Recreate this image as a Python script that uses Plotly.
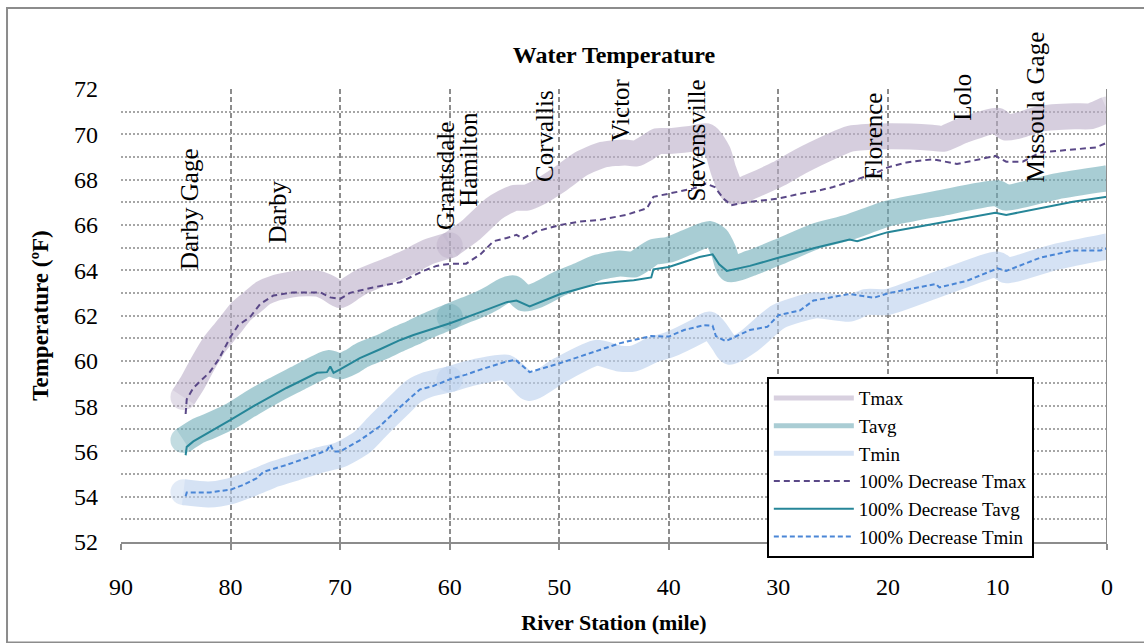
import plotly.graph_objects as go

# ---------------- data ----------------
station_tmax = [84.3, 83.5, 82.5, 81.5, 80.5, 80, 79, 78, 77, 76, 74, 72, 71, 70, 69, 68, 66, 64, 62, 60,
                58, 56, 55, 54, 53, 52, 50, 48, 46, 44, 43, 42, 41, 40, 38, 36.5, 35.5, 35, 34.2, 33.5,
                32.5, 30, 28, 25, 23.5, 21, 18, 16, 15, 13, 10, 9.2, 8, 6, 3, 1.5, 0]
tmax = [58.4, 59.0, 59.9, 60.7, 61.3, 61.6, 62.2, 62.6, 63.0, 63.2, 63.4, 63.4, 63.2, 62.9, 63.2, 63.5, 63.9, 64.3, 64.8, 65.1,
        65.8, 66.7, 67.0, 67.2, 67.2, 67.4, 68.0, 68.7, 69.1, 69.2, 69.15, 69.4, 69.7, 69.7, 69.8, 69.9, 69.2, 68.4, 67.5, 67.5,
        67.7, 68.25, 68.8, 69.5, 69.8, 69.9, 69.9, 69.85, 69.8, 70.2, 70.6, 70.3, 70.4, 70.7, 70.8, 70.8, 71.1]

station_tavg = [84.3, 83, 82, 80, 78, 76, 74, 72, 71, 70, 69, 68, 66, 64.5, 63.3, 62, 60, 58.5, 57.2, 56,
                55, 54.2, 53.2, 52, 50, 48, 46.6, 44.5, 43.2, 41.4, 40, 38, 36.3, 35.6, 35, 34.4, 32.6,
                30, 26.6, 23.5, 20, 15.3, 10, 9.2, 4.6, 0]
tavg = [56.5, 56.9, 57.1, 57.55, 58.15, 58.7, 59.2, 59.7, 59.9, 59.75, 59.95, 60.25, 60.65, 61.0, 61.25, 61.55, 61.95, 62.25, 62.5, 62.8,
        63.1, 63.2, 62.75, 62.9, 63.4, 63.8, 64.1, 64.3, 64.25, 64.8, 64.9, 65.3, 65.6, 65.4, 64.85, 64.05, 64.3,
        64.8, 65.5, 65.9, 66.5, 66.95, 67.4, 67.2, 67.7, 68.05]

station_tmin = [84.3, 82, 80, 78, 76, 74, 72, 70, 68, 66.4, 64.5, 63.3, 62, 60, 58.5, 57.2, 54.8, 53.6, 52.7, 49.9,
                46.6, 44.5, 43.2, 41.4, 40, 37.2, 36.3, 35, 34.4, 32.6, 30, 26.6, 23.5, 22, 20, 15.3, 10, 9.2, 4.6, 0]
tmin = [54.2, 54.1, 54.25, 54.6, 55.0, 55.3, 55.6, 55.85, 56.4, 57.2, 58.1, 58.65, 58.95, 59.18, 59.4, 59.55, 59.7, 59.2, 58.8, 59.6,
        60.35, 60.1, 60.1, 60.5, 60.7, 61.35, 61.6, 60.8, 60.4, 60.9, 61.95, 62.45, 62.3, 62.6, 62.6, 63.4, 64.25, 64.0, 64.6, 65.05]

station_dec_tmax = [84.1, 84.0, 83.4, 81.9, 81.1, 80.0, 79.3, 78.2, 77.3, 76.1, 74.3, 71.8, 70.9, 70.0, 69.1, 67.0, 64.5,
                    62.4, 61.2, 59.9, 58.5, 57.2, 56.0, 54.8, 53.9, 53.3, 52.1, 49.9, 48.1, 46.3, 43.9, 42.0, 41.4, 40.0,
                    37.8, 36.6, 35.8, 35.0, 34.3, 32.6, 30.0, 28.0, 26.2, 25.0, 23.5, 21.3, 20.0, 18.3, 15.9, 13.7,
                    11.6, 10.2, 9.2, 7.7, 6.1, 3.1, 1.0, 0.0]
dec_tmax = [57.65, 58.3, 58.8, 59.5, 60.05, 61.06, 61.57, 61.94, 62.5, 62.88, 63.02, 63.02, 62.8, 62.73, 63.0, 63.24, 63.47,
            63.97, 64.19, 64.29, 64.29, 64.7, 65.28, 65.42, 65.56, 65.4, 65.71, 66.0, 66.15, 66.22, 66.44, 66.73, 67.24, 67.38,
            67.6, 67.82, 67.67, 67.16, 66.87, 67.02, 67.16, 67.38, 67.53, 67.67, 67.9, 68.25, 68.54, 68.76, 68.9, 68.69,
            68.9, 69.05, 68.79, 68.79, 69.2, 69.34, 69.42, 69.63]

station_dec_tavg = [84.1, 84.0, 83.4, 81.9, 80.0, 77.9, 74.9, 72.1, 71.2, 70.9, 70.6, 70.0, 68.2, 66.4, 64.5, 63.3, 59.9,
                    57.2, 54.8, 53.9, 52.7, 49.9, 46.6, 44.5, 43.2, 41.6, 41.4, 40.0, 37.2, 36.0, 35.4, 34.7, 32.6,
                    30.0, 26.6, 23.5, 22.8, 20.0, 15.9, 12.5, 10.2, 9.2, 6.1, 3.1, 0.0]
dec_tavg = [55.83, 56.2, 56.44, 56.85, 57.39, 58.0, 58.8, 59.47, 59.5, 59.75, 59.47, 59.62, 60.12, 60.5, 60.92, 61.14, 61.67,
            62.15, 62.59, 62.66, 62.4, 62.95, 63.39, 63.5, 63.56, 63.68, 64.04, 64.14, 64.58, 64.7, 64.26, 63.97, 64.19,
            64.55, 64.99, 65.35, 65.28, 65.68, 66.04, 66.32, 66.54, 66.44, 66.73, 67.02, 67.24]

station_dec_tmin = [84.1, 84.0, 81.9, 80.0, 78.8, 77.6, 77.0, 74.9, 73.0, 71.2, 70.9, 70.6, 70.0, 68.2, 66.4, 64.5, 62.7,
                    61.5, 59.9, 58.5, 57.2, 54.8, 54.0, 52.7, 49.9, 48.1, 46.3, 44.5, 43.2, 41.6, 40.0, 38.6, 36.8,
                    36.0, 35.7, 34.8, 32.6, 31.0, 30.0, 28.0, 26.8, 25.0, 23.5, 21.3, 20.0, 18.3, 15.6, 15.3, 12.8,
                    10.0, 9.2, 6.1, 3.1, 0.6, 0.0]
dec_tmin = [54.02, 54.19, 54.19, 54.31, 54.53, 54.82, 55.1, 55.4, 55.72, 56.05, 56.3, 56.0, 56.0, 56.49, 57.1, 57.97, 58.74,
            58.89, 59.2, 59.39, 59.61, 59.97, 60.04, 59.5, 59.9, 60.2, 60.49, 60.77, 60.92, 61.09, 61.07, 61.36, 61.57,
            61.55, 61.09, 60.87, 61.36, 61.5, 62.01, 62.23, 62.66, 62.8, 62.95, 62.78, 62.98, 63.14, 63.39, 63.24, 63.53,
            64.08, 63.97, 64.55, 64.87, 64.87, 64.96]

junction_station = 60  # bands are drawn as two reaches meeting here

location_names = ["Darby Gage", "Darby", "Grantsdale", "Hamilton", "Corvallis", "Victor",
                  "Stevensville", "Florence", "Lolo", "Missoula Gage"]
location_miles = [83.7, 75.7, 60.4, 58.3, 51.4, 44.4, 37.5, 21.3, 13.2, 6.5]
location_label_base = [63.9, 65.1, 65.7, 66.7, 67.8, 69.6, 66.95, 67.9, 70.5, 67.8]

x_ticks = [90, 80, 70, 60, 50, 40, 30, 20, 10, 0]
y_ticks = [52, 54, 56, 58, 60, 62, 64, 66, 68, 70, 72]

FONT = "Liberation Serif, Times New Roman, serif"
BAND_W = 26

band_specs = [
    ("Tmax", station_tmax, tmax, "rgb(188,175,201)", "rgb(216,208,223)"),
    ("Tavg", station_tavg, tavg, "rgb(112,173,185)", "rgb(170,205,212)"),
    ("Tmin", station_tmin, tmin, "rgb(186,208,238)", "rgb(214,227,245)"),
]

fig = go.Figure()

# legend-only entries for the wide bands
for name, _, _, _, legcol in band_specs:
    fig.add_trace(go.Scatter(x=[None], y=[None], mode="lines", name=name,
                             line=dict(color=legcol, width=5), showlegend=True))

# the wide bands, split into two reaches at the junction
for name, xs, ys, col, _ in band_specs:
    up = [(a, b) for a, b in zip(xs, ys) if a >= junction_station]
    dn = [(a, b) for a, b in zip(xs, ys) if a <= junction_station]
    for seg in (up, dn):
        sx = [p[0] for p in seg]
        sy = [p[1] for p in seg]
        sizes = [BAND_W if i in (0, len(seg) - 1) else 0 for i in range(len(seg))]
        fig.add_trace(go.Scatter(x=sx, y=sy, mode="lines+markers", showlegend=False,
                                 line=dict(color=col, width=BAND_W, shape="spline", smoothing=0.6),
                                 marker=dict(color=col, size=sizes, line=dict(width=0)),
                                 opacity=0.6, hoverinfo="skip"))

fig.add_trace(go.Scatter(x=station_dec_tmax, y=dec_tmax, mode="lines", name="100% Decrease Tmax",
                         line=dict(color="rgb(90,72,135)", width=2, dash="6px,4px")))
fig.add_trace(go.Scatter(x=station_dec_tavg, y=dec_tavg, mode="lines", name="100% Decrease Tavg",
                         line=dict(color="rgb(38,134,152)", width=2)))
fig.add_trace(go.Scatter(x=station_dec_tmin, y=dec_tmin, mode="lines", name="100% Decrease Tmin",
                         line=dict(color="rgb(74,134,214)", width=2, dash="5px,3px")))

for nm, mx, yb in zip(location_names, location_miles, location_label_base):
    fig.add_annotation(x=mx, y=yb, text=nm, textangle=-90, showarrow=False,
                       xanchor="center", yanchor="bottom",
                       font=dict(family=FONT, size=25, color="black"))

# right-hand axis line at mile 0 and outer frame
fig.add_shape(type="line", xref="x", yref="paper", x0=0, x1=0, y0=0, y1=1,
              line=dict(color="#8c8c8c", width=2))
fig.add_shape(type="rect", xref="paper", yref="paper", x0=-0.1156, x1=1.0436, y0=-0.222, y1=1.1786,
              line=dict(color="#8c8c8c", width=2), fillcolor="rgba(0,0,0,0)")

fig.update_layout(
    width=1144, height=643,
    margin=dict(l=121, r=37, t=89, b=95),
    paper_bgcolor="white", plot_bgcolor="white",
    font=dict(family=FONT, color="black"),
    title=dict(text="<b>Water Temperature</b>", x=0.5, xref="paper", y=1 - 55 / 643, yanchor="middle",
               font=dict(family=FONT, size=24, color="black")),
    showlegend=True,
    legend=dict(x=0.655, y=0.364, xanchor="left", yanchor="top", bgcolor="white",
                bordercolor="black", borderwidth=2, font=dict(family=FONT, size=19, color="black"),
                tracegroupgap=0, itemwidth=80),
    xaxis=dict(range=[90, 0], tickvals=x_ticks, ticks="outside", ticklen=6, tickcolor="#8c8c8c",
               tickwidth=1.5, showline=True, linecolor="#8c8c8c", linewidth=2,
               showgrid=True, gridcolor="#8c8c8c", gridwidth=1.5, griddash="5px,3px",
               zeroline=False, tickfont=dict(family=FONT, size=24, color="black"),
               ticklabelstandoff=16,
               title=dict(text="<b>River Station (mile)</b>", standoff=16,
                          font=dict(family=FONT, size=22, color="black"))),
    yaxis=dict(range=[52, 72], tickvals=y_ticks, ticks="", showline=False,
               showgrid=True, gridcolor="#a6a6a6", gridwidth=1.5, griddash="2px,2px",
               minor=dict(dtick=1, showgrid=True, gridcolor="#a6a6a6", gridwidth=1.5, griddash="2px,2px"),
               zeroline=False, tickfont=dict(family=FONT, size=24, color="black"),
               ticklabelstandoff=22,
               title=dict(text="<b>Temperature (ºF)</b>", standoff=18,
                          font=dict(family=FONT, size=23, color="black"))),
)

fig.write_html("out.html")
